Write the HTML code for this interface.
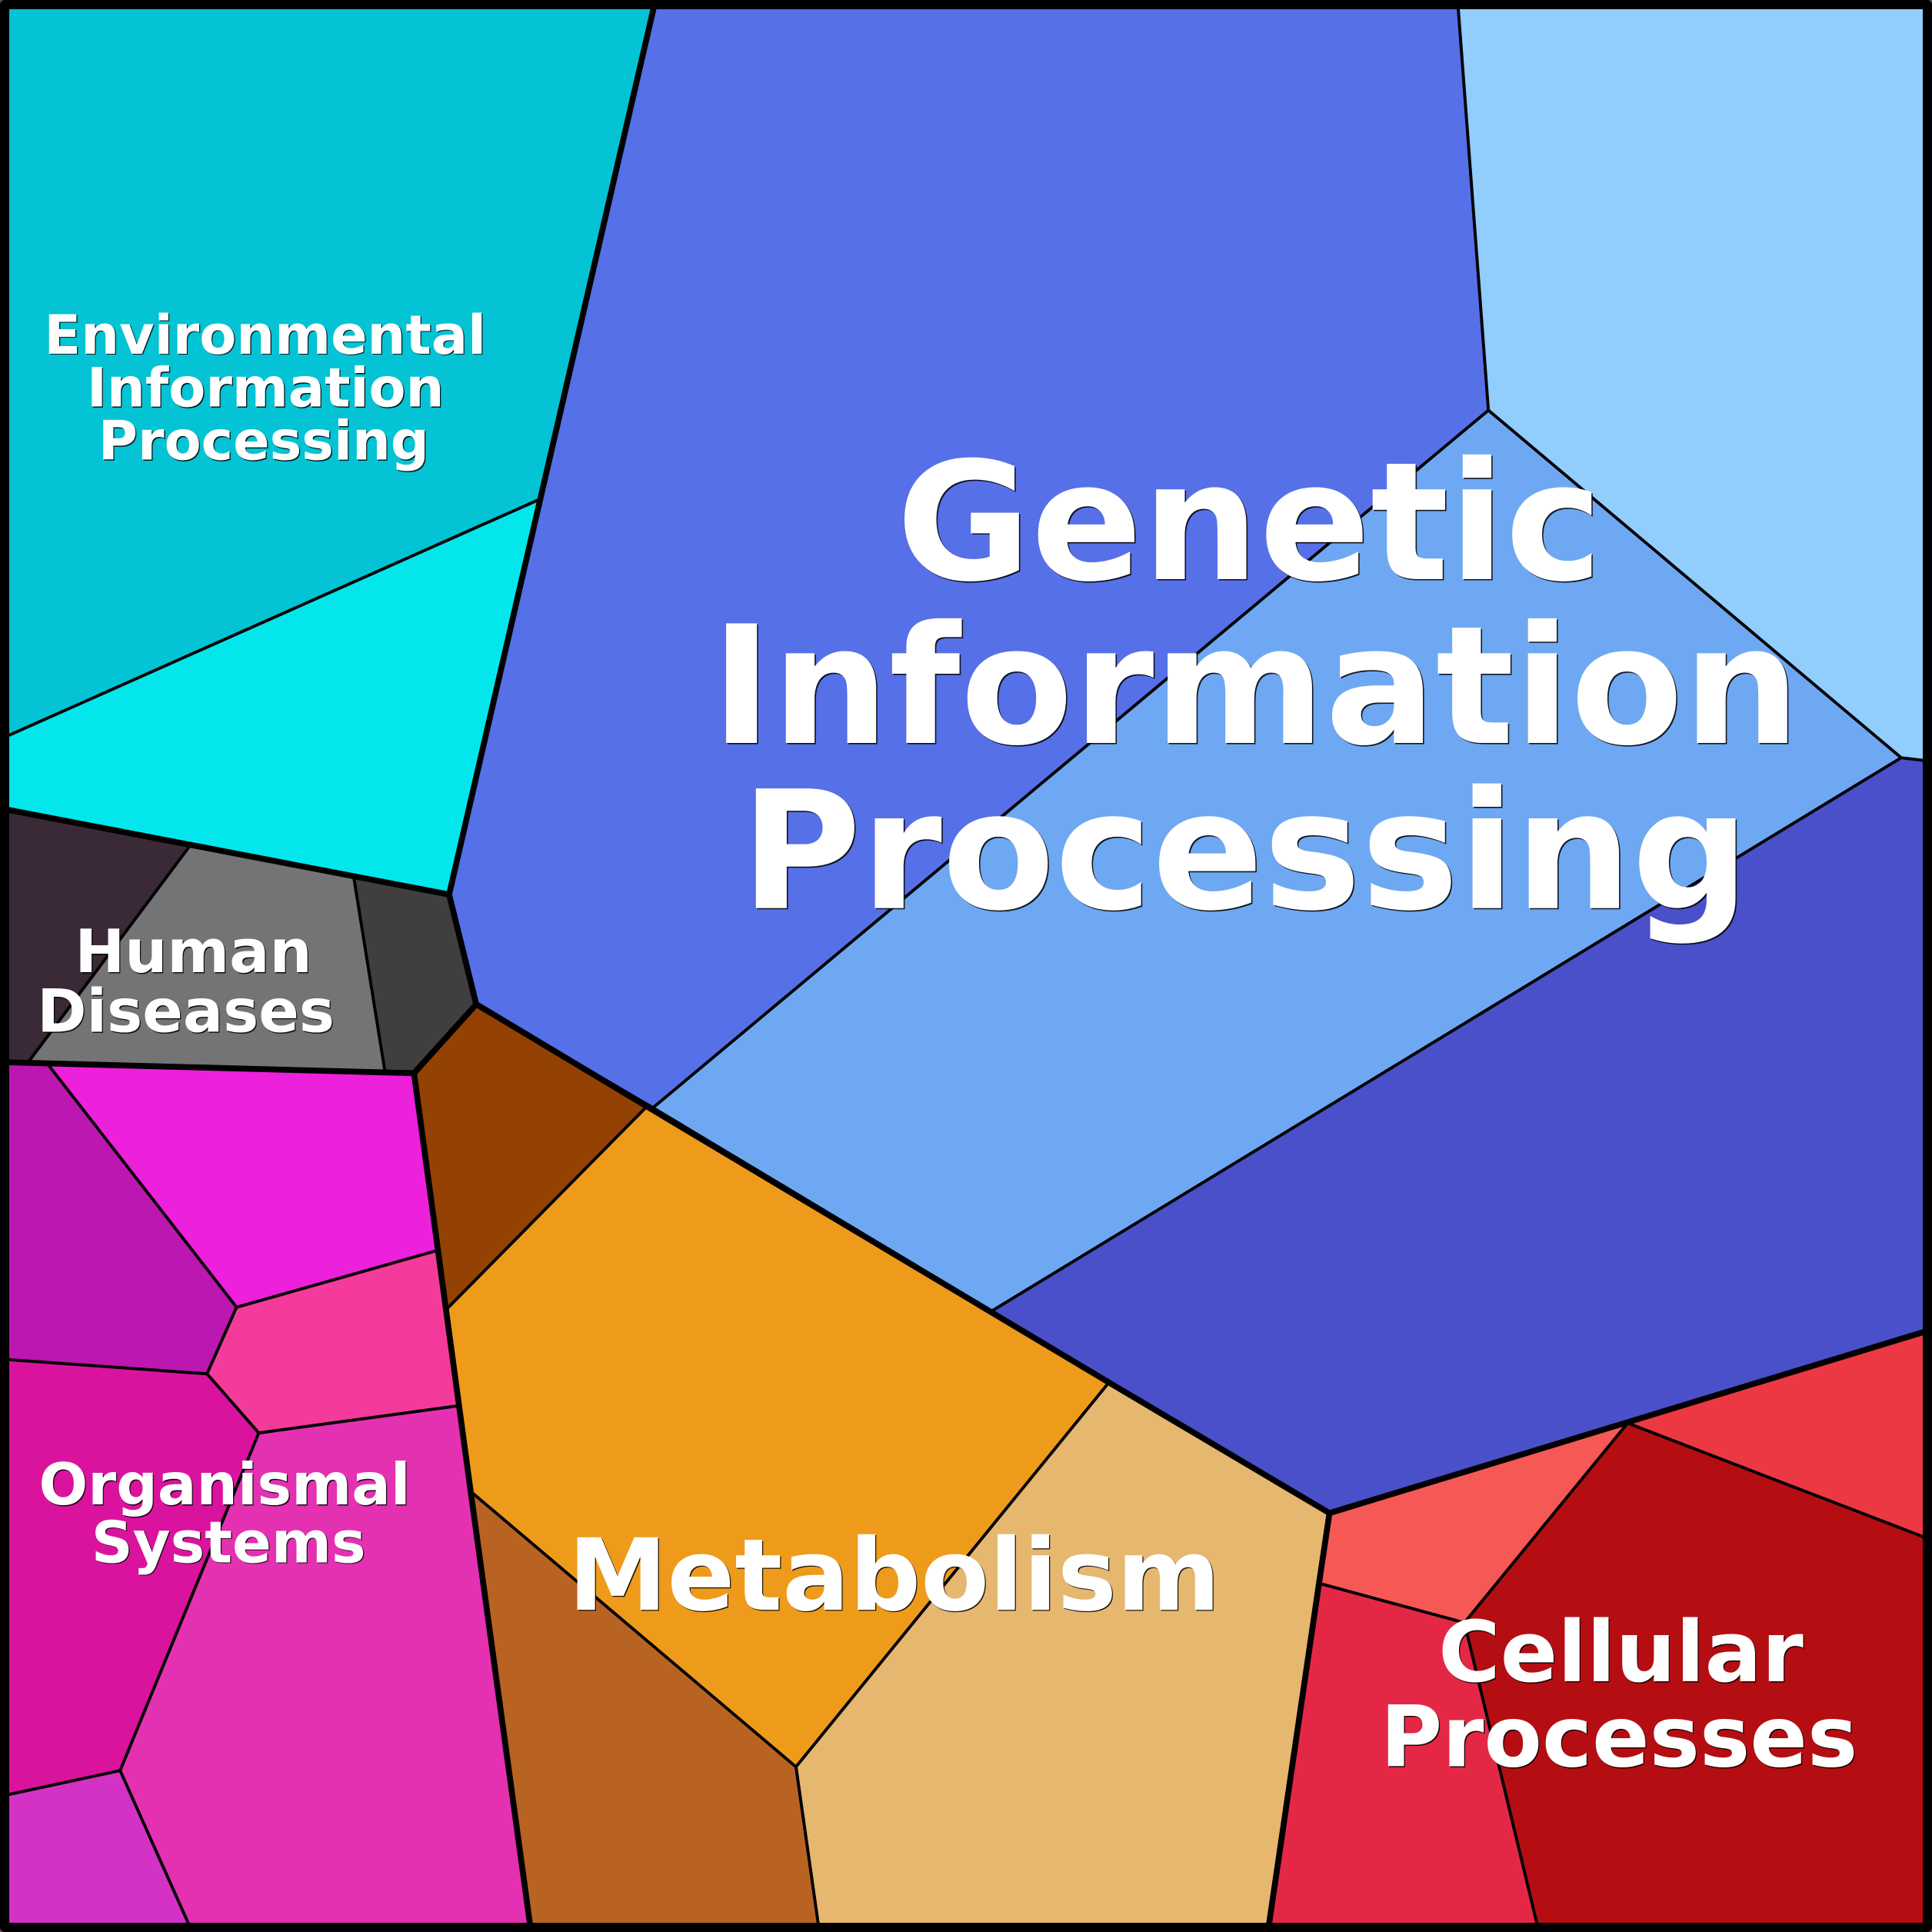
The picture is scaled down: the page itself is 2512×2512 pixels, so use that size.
<!DOCTYPE html>
<html><head><meta charset="utf-8"><style>
html,body{margin:0;padding:0;background:#fff}
svg{display:block}
text{font-family:"DejaVu Sans","Liberation Sans",sans-serif;font-weight:700;text-anchor:middle;fill:#fff}
.s{fill:#000;fill-opacity:.85}
</style></head><body>
<svg width="2512" height="2512" viewBox="0 0 1568 1568" xmlns="http://www.w3.org/2000/svg">
<g stroke="#000" stroke-width="2.4" stroke-linejoin="round">
<polygon fill="#04C3D4" points="0,0 532,0 438.5,405 0,600"/>
<polygon fill="#03E7EC" points="0,600 438.5,405 364.5,726 0,656"/>
<polygon fill="#3A2936" points="0,656 154.5,686 23,862 0,862"/>
<polygon fill="#747476" points="154.5,686 287,711 312.5,870 23,862"/>
<polygon fill="#403E3F" points="287,711 364.5,726 386.5,815 336,871 312.5,870"/>
<polygon fill="#934203" points="336,871 386.5,815 525,898 362,1063"/>
<polygon fill="#5670E8" points="532,0 1183,0 1208,333 530,899 386.5,815 364.5,726"/>
<polygon fill="#91CDFD" points="1183,0 1568,0 1568,618 1543,615 1208,333"/>
<polygon fill="#6FA8F2" points="1208,333 1543,615 805,1064 530,899"/>
<polygon fill="#4A50CA" points="1543,615 1568,618 1568,1079 1079,1228 805,1064"/>
<polygon fill="#EE9B1C" points="525,898 900,1122 646,1434 382,1210.5 362,1063"/>
<polygon fill="#E6B76F" points="900,1122 1079,1228 1029,1568 665,1568 646,1434"/>
<polygon fill="#B86322" points="382,1210.5 646,1434 665,1568 431,1568"/>
<polygon fill="#F65855" points="1079,1228 1321,1155 1188.5,1317 1070.5,1285"/>
<polygon fill="#EB3842" points="1321,1155 1568,1079 1568,1250"/>
<polygon fill="#B40E13" points="1321,1155 1568,1250 1568,1568 1249,1568 1188.5,1317"/>
<polygon fill="#E52746" points="1070.5,1285 1188.5,1317 1249,1568 1029,1568"/>
<polygon fill="#ED20DC" points="39,864 336,871 354.5,1015 192,1061"/>
<polygon fill="#BC17B1" points="0,862 39,864 192,1061 168,1115 0,1103"/>
<polygon fill="#F43B9B" points="192,1061 354.5,1015 371.5,1141 210,1163 168,1115"/>
<polygon fill="#DA139E" points="0,1103 168,1115 210,1163 97.5,1437 0,1458"/>
<polygon fill="#E331B2" points="210,1163 371.5,1141 431,1568 156,1568 97.5,1437"/>
<polygon fill="#D332C5" points="0,1458 97.5,1437 156,1568 0,1568"/>
</g>
<g fill="none" stroke="#000" stroke-width="4.8" stroke-linejoin="round" stroke-linecap="round">
<polyline points="532,0 438.5,405 364.5,726 386.5,815 525,898 900,1122 1079,1228 1568,1079"/>
<polyline points="0,656 364.5,726"/>
<polyline points="386.5,815 336,871 0,862"/>
<polyline points="336,871 362,1063 382,1210.5 431,1568"/>
<polyline points="1079,1228 1070.5,1285 1029,1568"/>
</g>
<rect x="0" y="0" width="1568" height="1568" rx="6" fill="none" stroke="#000" stroke-width="15"/>
<g fill="#555">
<path d="M0,0H4A4,4 0 0 0 0,4Z"/>
<path d="M1568,0H1564A4,4 0 0 1 1568,4Z"/>
<path d="M0,1568H4A4,4 0 0 1 0,1564Z"/>
<path d="M1568,1568H1564A4,4 0 0 0 1568,1564Z"/>
</g>

<g font-size="133.2" transform="translate(1,1)">
<text class="s" x="1014" y="470">Genetic</text><text class="s" x="1019" y="603">Information</text><text class="s" x="1010.5" y="737">Processing</text>
</g>
<g font-size="133.2">
<text x="1014" y="470">Genetic</text><text x="1019" y="603">Information</text><text x="1010.5" y="737">Processing</text>
</g>
<g font-size="43.7" transform="translate(.8,.8)">
<text class="s" x="215.2" y="287">Environmental</text><text class="s" x="215.5" y="330">Information</text><text class="s" x="214" y="373">Processing</text>
</g>
<g font-size="43.7">
<text x="215.2" y="287">Environmental</text><text x="215.5" y="330">Information</text><text x="214" y="373">Processing</text>
</g>
<g font-size="48.4" transform="translate(.8,.8)">
<text class="s" x="157" y="789">Human</text><text class="s" x="150.8" y="837.5">Diseases</text>
</g>
<g font-size="48.4">
<text x="157" y="789">Human</text><text x="150.8" y="837.5">Diseases</text>
</g>
<g font-size="46.8" transform="translate(.8,.8)">
<text class="s" x="182.3" y="1221">Organismal</text><text class="s" x="185.5" y="1268">Systems</text>
</g>
<g font-size="46.8">
<text x="182.3" y="1221">Organismal</text><text x="185.5" y="1268">Systems</text>
</g>
<text class="s" x="726.6" y="1307.3" font-size="80.8">Metabolism</text>
<text x="725.8" y="1306.5" font-size="80.8">Metabolism</text>
<g font-size="68.6" transform="translate(.8,.8)">
<text class="s" x="1315.5" y="1364.5">Cellular</text><text class="s" x="1314" y="1433.5">Processes</text>
</g>
<g font-size="68.6">
<text x="1315.5" y="1364.5">Cellular</text><text x="1314" y="1433.5">Processes</text>
</g>
</svg>
</body></html>
